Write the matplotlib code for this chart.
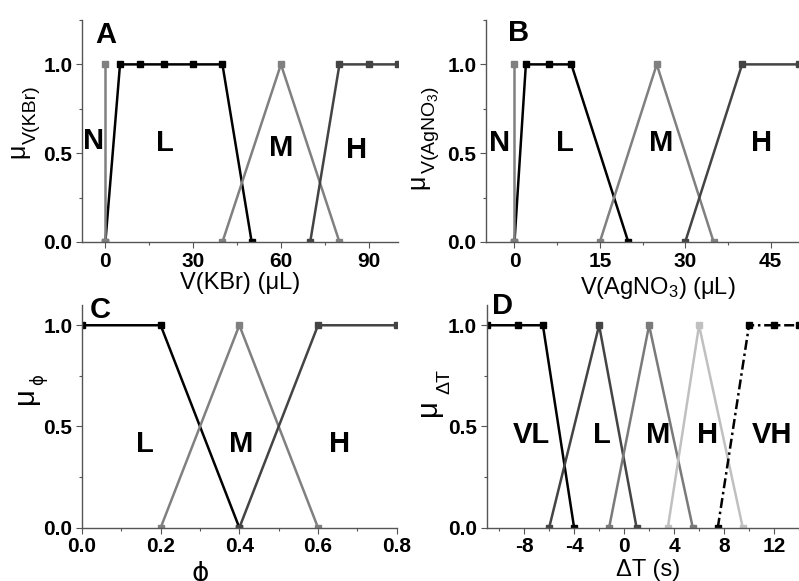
import matplotlib
matplotlib.use("Agg")
import matplotlib.pyplot as plt
from matplotlib.ticker import MultipleLocator, FormatStrFormatter

plt.rcParams["font.family"] = ["Liberation Sans", "DejaVu Sans"]
plt.rcParams["mathtext.fontset"] = "custom"
plt.rcParams["mathtext.rm"] = "Liberation Sans"
plt.rcParams["mathtext.it"] = "Liberation Sans"
plt.rcParams["mathtext.bf"] = "Liberation Sans:bold"
plt.rcParams["mathtext.default"] = "regular"
plt.rcParams["axes.unicode_minus"] = False

# ---- panel A: V(KBr) ----
a_n_x = [0, 0]
a_n_y = [0, 1]
a_l_x = [0, 5, 12, 20, 30, 40, 50]
a_l_y = [0, 1, 1, 1, 1, 1, 0]
a_m_x = [40, 60, 80]
a_m_y = [0, 1, 0]
a_h_x = [70, 80, 90, 100]
a_h_y = [0, 1, 1, 1]
a_labels = ["N", "L", "M", "H"]
a_label_x = [-4, 20.5, 60, 86]
a_label_y = [0.57, 0.56, 0.53, 0.52]

# ---- panel B: V(AgNO3) ----
b_n_x = [0, 0]
b_n_y = [0, 1]
b_l_x = [0, 2, 6, 10, 20]
b_l_y = [0, 1, 1, 1, 0]
b_m_x = [15, 25, 35]
b_m_y = [0, 1, 0]
b_h_x = [30, 40, 50]
b_h_y = [0, 1, 1]
b_labels = ["N", "L", "M", "H"]
b_label_x = [-2.6, 8.8, 25.7, 43.5]
b_label_y = [0.56, 0.56, 0.56, 0.56]

# ---- panel C: phi ----
c_l_x = [0, 0.2, 0.4]
c_l_y = [1, 1, 0]
c_m_x = [0.2, 0.4, 0.6]
c_m_y = [0, 1, 0]
c_h_x = [0.4, 0.6, 0.8]
c_h_y = [0, 1, 1]
c_labels = ["L", "M", "H"]
c_label_x = [0.16, 0.405, 0.655]
c_label_y = [0.415, 0.415, 0.415]

# ---- panel D: delta T ----
d_vl_x = [-11, -8.5, -6.5, -4]
d_vl_y = [1, 1, 1, 0]
d_l_x = [-6, -2, 1]
d_l_y = [0, 1, 0]
d_m_x = [-1.2, 2, 5.5]
d_m_y = [0, 1, 0]
d_h_x = [3.5, 6, 9.5]
d_h_y = [0, 1, 0]
d_vh_x = [7.5, 10, 12, 14]
d_vh_y = [0, 1, 1, 1]
d_labels = ["VL", "L", "M", "H", "VH"]
d_label_x = [-7.4, -1.8, 2.7, 6.7, 11.85]
d_label_y = [0.46, 0.46, 0.46, 0.46, 0.46]

BLACK = "#000000"
DARK = "#444444"
GRAY = "#808080"
LIGHT = "#c0c0c0"

TICK_FS = 15
LABEL_FS = 17
CAT_FS = 21
PHI = "\u03d5"


def series(ax, x, y, color, ls="-"):
    ax.plot(x, y, color=color, lw=1.8, ls=ls, marker="s", ms=5,
            mfc=color, mec=color)


def style_axes(ax, xmaj, xmin, xlim, ylim):
    ax.set_xlim(*xlim)
    ax.set_ylim(*ylim)
    for side in ("top", "right"):
        ax.spines[side].set_visible(False)
    for side in ("left", "bottom"):
        ax.spines[side].set_color("#555555")
        ax.spines[side].set_linewidth(1.0)
    ax.xaxis.set_major_locator(MultipleLocator(xmaj))
    ax.xaxis.set_minor_locator(MultipleLocator(xmin))
    ax.set_yticks([0, 0.5, 1.0])
    ax.yaxis.set_minor_locator(MultipleLocator(0.25))
    ax.tick_params(which="major", direction="out", length=4, width=0.8,
                   color="#555555", labelsize=TICK_FS, pad=3)
    ax.tick_params(which="minor", direction="out", length=2.5, width=0.8,
                   color="#555555")
    for lab in ax.get_xticklabels() + ax.get_yticklabels():
        lab.set_fontweight("bold")


def cat_labels(ax, labels, xs, ys):
    for t, x, y in zip(labels, xs, ys):
        ax.text(x, y, t, ha="center", va="center", fontsize=CAT_FS,
                fontweight="bold")


def mu_label(fig, mu_pos, mu_size, sub, sub_pos, sub_size, sub_family=None):
    # vertical "mu" with a large, lowered subscript, placed in pixel coords
    tr = fig.dpi_scale_trans
    h = fig.get_figheight() * fig.dpi
    fig.text(mu_pos[0] / fig.dpi, (h - mu_pos[1]) / fig.dpi, "μ",
             transform=tr, rotation=90, rotation_mode="anchor",
             ha="left", va="baseline", fontsize=mu_size)
    kw = {}
    if sub_family:
        kw["family"] = sub_family
    fig.text(sub_pos[0] / fig.dpi, (h - sub_pos[1]) / fig.dpi, sub,
             transform=tr, rotation=90, rotation_mode="anchor",
             ha="left", va="baseline", fontsize=sub_size, **kw)


def main():
    fig = plt.figure(figsize=(7.99, 5.81), dpi=100)

    ax_a = fig.add_axes([0.1026, 0.5835, 0.3955, 0.3821])
    ax_b = fig.add_axes([0.6083, 0.5835, 0.3917, 0.3821])
    ax_c = fig.add_axes([0.1026, 0.0917, 0.3939, 0.3833])
    ax_d = fig.add_axes([0.6091, 0.0917, 0.3909, 0.3833])

    # A
    series(ax_a, a_l_x, a_l_y, BLACK)
    series(ax_a, a_n_x, a_n_y, GRAY)
    series(ax_a, a_m_x, a_m_y, GRAY)
    series(ax_a, a_h_x, a_h_y, DARK)
    style_axes(ax_a, 30, 15, (-8, 100), (0, 1.25))
    cat_labels(ax_a, a_labels, a_label_x, a_label_y)
    ax_a.set_xlabel("V(KBr) (μL)", fontsize=LABEL_FS, labelpad=1)
    mu_label(fig, (24, 158), 18, "V(KBr)", (36, 144), 14)
    ax_a.text(0.041, 0.995, "A", transform=ax_a.transAxes, ha="left",
              va="top", fontsize=CAT_FS, fontweight="bold")

    # B
    series(ax_b, b_l_x, b_l_y, BLACK)
    series(ax_b, b_n_x, b_n_y, GRAY)
    series(ax_b, b_m_x, b_m_y, GRAY)
    series(ax_b, b_h_x, b_h_y, DARK)
    style_axes(ax_b, 15, 7.5, (-5, 50), (0, 1.25))
    cat_labels(ax_b, b_labels, b_label_x, b_label_y)
    ax_b.set_xlabel("V(AgNO$_3$) (μL)", fontsize=LABEL_FS, labelpad=1)
    ax_b.xaxis.set_label_coords(0.55, -0.15)
    mu_label(fig, (424, 189), 18, "V(AgNO$_3$)", (435, 174), 14)
    ax_b.text(0.07, 1.005, "B", transform=ax_b.transAxes, ha="left",
              va="top", fontsize=CAT_FS, fontweight="bold")

    # C
    series(ax_c, c_l_x, c_l_y, BLACK)
    series(ax_c, c_m_x, c_m_y, GRAY)
    series(ax_c, c_h_x, c_h_y, DARK)
    style_axes(ax_c, 0.2, 0.1, (0, 0.8), (0, 1.1))
    ax_c.xaxis.set_major_formatter(FormatStrFormatter("%.1f"))
    for lab in ax_c.get_xticklabels():
        lab.set_fontweight("bold")
    cat_labels(ax_c, c_labels, c_label_x, c_label_y)
    ax_c.set_xlabel(PHI, fontsize=LABEL_FS + 2, labelpad=0,
                    family=["DejaVu Sans"])
    ax_c.xaxis.set_label_coords(0.375, -0.15)
    mu_label(fig, (33, 404), 21, PHI, (43, 385), 12,
             sub_family=["DejaVu Sans"])
    ax_c.text(0.025, 1.04, "C", transform=ax_c.transAxes, ha="left",
              va="top", fontsize=CAT_FS, fontweight="bold")

    # D
    series(ax_d, d_vl_x, d_vl_y, BLACK)
    series(ax_d, d_l_x, d_l_y, DARK)
    series(ax_d, d_m_x, d_m_y, "#7a7a7a")
    series(ax_d, d_h_x, d_h_y, LIGHT)
    series(ax_d, d_vh_x, d_vh_y, BLACK, ls=(0, (4, 1.5, 1, 1.5)))
    style_axes(ax_d, 4, 2, (-11, 14), (0, 1.1))
    cat_labels(ax_d, d_labels, d_label_x, d_label_y)
    ax_d.set_xlabel("ΔT (s)", fontsize=LABEL_FS, labelpad=0)
    ax_d.xaxis.set_label_coords(0.516, -0.14)
    mu_label(fig, (436, 416), 21, "ΔT", (449, 394), 14)
    ax_d.text(0.017, 1.06, "D", transform=ax_d.transAxes, ha="left",
              va="top", fontsize=CAT_FS, fontweight="bold")

    fig.savefig("out.png", dpi=100)


if __name__ == "__main__":
    main()
